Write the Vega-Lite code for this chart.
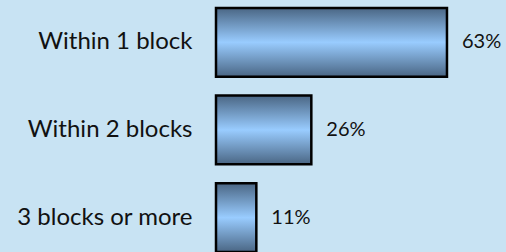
{
  "$schema": "https://vega.github.io/schema/vega-lite/v6.json",
  "autosize": "none",
  "width": 290,
  "height": 252,
  "padding": {"left": 216, "top": 0, "right": 0, "bottom": 0},
  "background": "#c8e3f3",
  "config": {"view": {"stroke": null}},
  "data": {"values": [
    {"category": "Within 1 block", "pct": 63, "label": "63%"},
    {"category": "Within 2 blocks", "pct": 26, "label": "26%"},
    {"category": "3 blocks or more", "pct": 11, "label": "11%"}
  ]},
  "encoding": {
    "y": {"field": "category", "type": "nominal", "sort": null,
      "scale": {"paddingInner": 0.216, "paddingOuter": 0.045, "align": 1},
      "axis": {"title": null, "domain": false, "ticks": false, "labelPadding": 24,
        "labelFont": "Lato", "labelFontSize": 24, "labelColor": "#111111", "labelLimit": 300}},
    "x": {"field": "pct", "type": "quantitative", "scale": {"domain": [0, 79.1]}, "axis": null}
  },
  "layer": [
    {"mark": {"type": "bar", "stroke": "#000000", "strokeWidth": 2.5,
      "fill": {"gradient": "linear", "x1": 0, "y1": 0, "x2": 0, "y2": 1,
        "stops": [
          {"offset": 0, "color": "#4a6684"},
          {"offset": 0.5, "color": "#99ccff"},
          {"offset": 1, "color": "#4a6684"}
        ]}}},
    {"mark": {"type": "text", "align": "left", "dx": 15, "font": "Lato", "fontSize": 20, "color": "#111111"},
      "encoding": {"text": {"field": "label"}}}
  ]
}
